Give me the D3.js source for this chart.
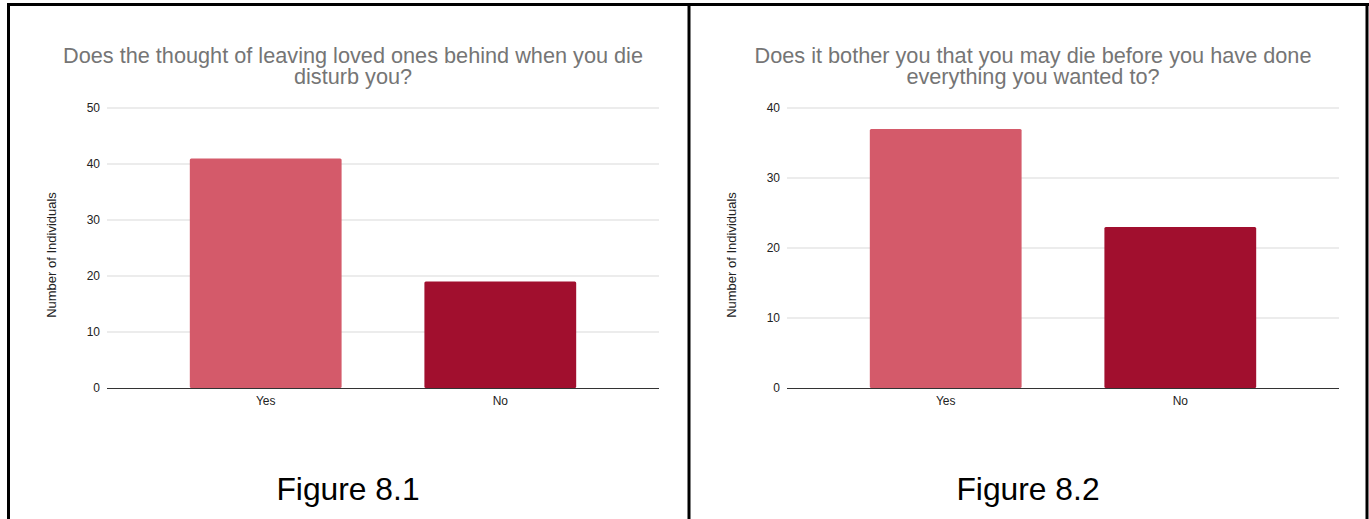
<!DOCTYPE html>
<html>
<head>
<meta charset="utf-8">
<script src="https://cdn.jsdelivr.net/npm/d3@7"></script>
<style>
  html, body { margin: 0; padding: 0; background: #fff; }
  svg { display: block; font-family: "Liberation Sans", Arial, sans-serif; }
</style>
</head>
<body>
<svg id="chart" width="1369" height="519"></svg>
<script>
// Survey responses
const categories = ["Yes", "No"];
const values81 = [41, 19];
const values82 = [37, 23];
const ticks81 = [0, 10, 20, 30, 40, 50];
const ticks82 = [0, 10, 20, 30, 40];
const title81 = ["Does the thought of leaving loved ones behind when you die", "disturb you?"];
const title82 = ["Does it bother you that you may die before you have done", "everything you wanted to?"];
const figureLabels = ["Figure 8.1", "Figure 8.2"];
const yLabel = "Number of Individuals";
const barColors = ["#d45a6a", "#a10f2e"];

const svg = d3.select("#chart");

// Frame around the two figures
const frame = svg.append("g").attr("stroke", "#000").attr("stroke-width", 3);
frame.append("line").attr("x1", 7).attr("x2", 1369).attr("y1", 4.5).attr("y2", 4.5);
frame.append("line").attr("x1", 8.5).attr("x2", 8.5).attr("y1", 3).attr("y2", 519);
frame.append("line").attr("x1", 689).attr("x2", 689).attr("y1", 3).attr("y2", 519);
frame.append("line").attr("x1", 1367).attr("x2", 1367).attr("y1", 3).attr("y2", 519);

function drawChart(opts) {
  const { left, values, ticks, title, label } = opts;
  const plotW = 552, top = 108, bottom = 388;
  const g = svg.append("g");

  const x = d3.scaleBand().domain(categories).range([left, left + plotW]).padding(0.353);
  const y = d3.scaleLinear().domain([0, d3.max(ticks)]).range([bottom, top]);

  // Gridlines
  g.append("g").selectAll("line").data(ticks.filter(t => t !== 0)).join("line")
    .attr("x1", left).attr("x2", left + plotW)
    .attr("y1", d => y(d)).attr("y2", d => y(d))
    .attr("stroke", "#d9d9d9").attr("stroke-width", 1);

  // Y axis tick labels
  const yAxis = d3.axisLeft(y).tickValues(ticks).tickSize(0).tickPadding(7);
  const ya = g.append("g").attr("transform", `translate(${left},0)`).call(yAxis);
  ya.select(".domain").remove();
  ya.selectAll("text").attr("font-size", 12).attr("fill", "#222")
    .attr("font-family", "Liberation Sans, Arial, sans-serif");

  // Bars
  g.append("g").selectAll("rect").data(values).join("rect")
    .attr("x", (d, i) => x(categories[i]))
    .attr("width", x.bandwidth())
    .attr("y", d => y(d))
    .attr("height", d => y(0) - y(d))
    .attr("rx", 1.5)
    .attr("fill", (d, i) => barColors[i]);

  // Baseline and category labels
  const xAxis = d3.axisBottom(x).tickSize(0).tickPadding(8);
  const xa = g.append("g").attr("transform", `translate(0,${bottom})`).call(xAxis);
  xa.select(".domain").remove();
  xa.selectAll("text").attr("font-size", 12).attr("fill", "#222")
    .attr("font-family", "Liberation Sans, Arial, sans-serif");
  g.append("line").attr("x1", left).attr("x2", left + plotW)
    .attr("y1", bottom + 0.5).attr("y2", bottom + 0.5)
    .attr("stroke", "#333").attr("stroke-width", 1);

  // Y axis title
  g.append("text")
    .attr("transform", `translate(${left - 54},${(top + bottom) / 2 + 7}) rotate(-90)`)
    .attr("text-anchor", "middle").attr("dominant-baseline", "middle")
    .attr("font-size", 13).attr("fill", "#222").text(yLabel);

  // Chart title
  const cx = left + plotW / 2 - 30;
  g.append("text").attr("text-anchor", "middle").attr("font-size", 21.7).attr("fill", "#757575")
    .selectAll("tspan").data(title).join("tspan")
    .attr("x", cx).attr("y", (d, i) => 63 + i * 21).text(d => d);

  // Figure caption
  g.append("text").attr("x", cx - 5).attr("y", 500).attr("text-anchor", "middle")
    .attr("font-size", 31.8).attr("fill", "#000").text(label);
}

drawChart({ left: 107, values: values81, ticks: ticks81, title: title81, label: figureLabels[0] });
drawChart({ left: 787, values: values82, ticks: ticks82, title: title82, label: figureLabels[1] });
</script>
</body>
</html>
